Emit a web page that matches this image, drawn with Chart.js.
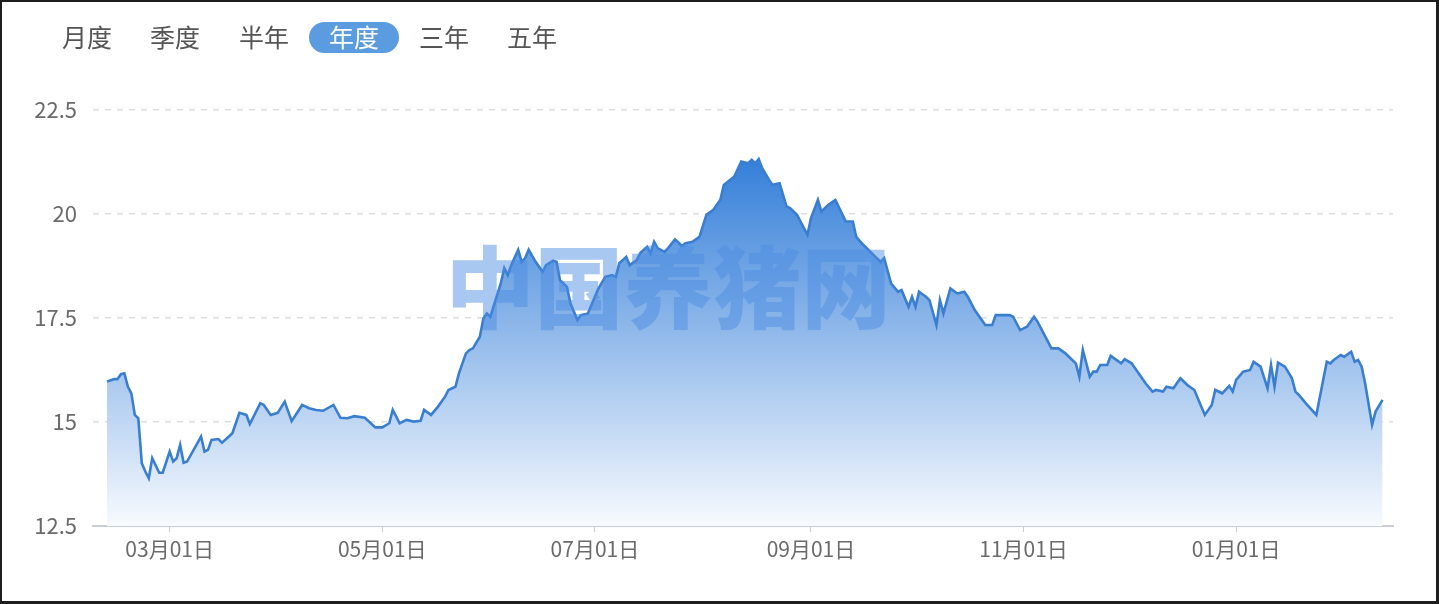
<!DOCTYPE html>
<html lang="zh-CN">
<head>
<meta charset="utf-8">
<title>年度价格走势</title>
<script src="https://cdn.jsdelivr.net/npm/chart.js@4.4.1/dist/chart.umd.min.js"></script>
<style>
  html, body { margin: 0; padding: 0; background: #fff; }
  #wrap { position: relative; width: 1439px; height: 604px; overflow: hidden; background: #fff;
          font-family: "Noto Sans CJK SC", "Noto Sans", sans-serif; }
  #chart { position: absolute; left: 0; top: 0; }
  .tab { position: absolute; top: 22px; height: 31px; line-height: 29px; font-size: 25px;
         color: #555; text-align: center; transform: translateX(-50%); white-space: nowrap; }
  .tab.active { background: #5b9bdf; color: #fff; border-radius: 16px; width: 90px; }
  #frame { position: absolute; left: 0; top: 0; width: 1439px; height: 604px; box-sizing: border-box;
           border: 2px solid #1e1e1e; border-right-width: 3px; border-bottom-width: 3px; pointer-events: none; }
</style>
</head>
<body>
<div id="wrap">
  <canvas id="chart" width="1439" height="604"></canvas>
  <div class="tab" style="left:87px">月度</div>
  <div class="tab" style="left:175px">季度</div>
  <div class="tab" style="left:264px">半年</div>
  <div class="tab active" style="left:354px">年度</div>
  <div class="tab" style="left:444px">三年</div>
  <div class="tab" style="left:532px">五年</div>
  <div id="frame"></div>
</div>
<script>
// day offsets counted from 2024-02-11
const days = [1,3,4,5,6,7,8,9,10,11,12,13,14,16,17,19,20,21,22,23,24,28,29,30,31,33,34,36,37,39,41,42,45,46,48,50,52,54,57,59,61,63,66,68,70,72,75,78,80,82,83,85,87,89,91,92,94,96,98,99,101,102,104,105,106,108,109,110,111,114,115,116,117,119,120,121,122,124,126,127,129,130,131,133,134,136,137,139,141,142,144,146,147,148,150,151,153,154,156,157,158,159,161,162,164,166,167,169,171,173,175,177,178,181,183,185,186,187,188,189,191,192,194,196,197,199,202,203,205,206,208,210,213,215,216,218,221,223,224,226,228,229,231,232,233,234,236,237,239,240,241,243,245,247,248,250,253,255,256,260,261,263,265,267,268,272,274,276,277,279,280,281,283,284,285,286,288,289,292,293,295,297,299,301,302,304,305,307,309,311,313,316,318,319,321,323,324,325,327,329,330,332,334,335,336,337,339,341,342,343,345,348,351,352,353,355,356,358,359,360,361,362,364,365,367];
const prices = [15.97,16.03,16.03,16.15,16.17,15.85,15.69,15.17,15.09,14.01,13.81,13.65,14.13,13.78,13.78,14.29,14.05,14.13,14.45,14.02,14.05,14.65,14.29,14.33,14.57,14.59,14.50,14.65,14.73,15.22,15.17,14.95,15.45,15.41,15.17,15.22,15.49,15.02,15.41,15.33,15.29,15.27,15.41,15.10,15.09,15.14,15.10,14.87,14.87,14.97,15.29,14.97,15.05,15.01,15.03,15.29,15.17,15.37,15.61,15.77,15.85,16.17,16.65,16.73,16.77,17.05,17.49,17.61,17.53,18.33,18.70,18.53,18.77,19.14,18.85,18.94,19.14,18.85,18.61,18.77,18.88,18.85,18.41,18.25,17.85,17.45,17.57,17.61,18.01,18.21,18.49,18.53,18.49,18.82,18.97,18.77,18.89,19.06,19.21,19.06,19.33,19.18,19.09,19.18,19.39,19.23,19.30,19.33,19.45,19.98,20.10,20.34,20.70,20.90,21.26,21.22,21.30,21.22,21.32,21.10,20.82,20.70,20.74,20.18,20.14,19.98,19.50,19.90,20.34,20.06,20.22,20.34,19.82,19.82,19.45,19.26,19.01,18.85,18.94,18.33,18.13,18.17,17.77,18.01,17.77,18.13,18.01,17.93,17.33,17.93,17.61,18.21,18.09,18.13,18.01,17.69,17.33,17.33,17.57,17.57,17.53,17.21,17.29,17.53,17.41,16.77,16.77,16.65,16.57,16.41,16.09,16.73,16.09,16.21,16.21,16.37,16.37,16.59,16.41,16.51,16.41,16.17,15.93,15.73,15.77,15.73,15.85,15.81,16.05,15.89,15.77,15.17,15.41,15.77,15.69,15.87,15.73,16.01,16.21,16.25,16.45,16.33,15.81,16.37,15.85,16.43,16.33,16.05,15.73,15.65,15.45,15.17,16.45,16.41,16.49,16.61,16.57,16.69,16.45,16.49,16.33,15.93,14.93,15.25,15.53];
const tickDays = [19, 80, 141, 203, 264, 325];
const tickLabels = ['03月01日', '05月01日', '07月01日', '09月01日', '11月01日', '01月01日'];
const yTicks = [12.5, 15, 17.5, 20, 22.5];
const watermark = '中国养猪网';

const FONT = '"Noto Sans CJK SC", "Noto Sans", sans-serif';
const points = days.map((d, i) => ({ x: d, y: prices[i] }));

const watermarkPlugin = {
  id: 'watermark',
  afterDatasetsDraw(chart) {
    const { ctx } = chart;
    ctx.save();
    ctx.font = '900 89px ' + FONT;
    ctx.fillStyle = 'rgba(75,140,225,0.48)';
    ctx.textAlign = 'center';
    ctx.textBaseline = 'middle';
    ctx.fillText(watermark, 668, 287);
    ctx.restore();
  }
};

new Chart(document.getElementById('chart'), {
  type: 'line',
  data: {
    datasets: [{
      data: points,
      borderColor: '#3a7ed0',
      borderWidth: 2.6,
      pointRadius: 0,
      tension: 0,
      fill: 'start',
      backgroundColor(context) {
        const { chart } = context;
        const area = chart.chartArea;
        if (!area) return 'rgba(90,150,220,0.5)';
        const g = chart.ctx.createLinearGradient(0, 150, 0, area.bottom);
        g.addColorStop(0, 'rgb(48,124,216)');
        g.addColorStop(1, 'rgb(247,250,254)');
        return g;
      }
    }]
  },
  options: {
    responsive: false,
    animation: false,
    devicePixelRatio: 1,
    layout: { padding: { top: 110, right: 46, bottom: 0, left: 0 } },
    plugins: { legend: { display: false }, tooltip: { enabled: false } },
    scales: {
      x: {
        type: 'linear',
        min: -3,
        max: 370,
        afterFit(scale) { scale.height = 78; },
        afterBuildTicks(scale) { scale.ticks = tickDays.map(v => ({ value: v })); },
        ticks: {
          autoSkip: false,
          maxRotation: 0,
          padding: 4,
          color: '#6a6a6a',
          font: { family: FONT, size: 21 },
          callback(v) { const i = tickDays.indexOf(v); return i >= 0 ? tickLabels[i] : null; }
        },
        grid: { drawOnChartArea: false, drawTicks: true, tickLength: 6, color: '#c9ced6' },
        border: { display: true, color: '#c9ced6', width: 2 }
      },
      y: {
        min: 12.5,
        max: 22.5,
        afterFit(scale) { scale.width = 93; },
        afterBuildTicks(scale) { scale.ticks = yTicks.map(v => ({ value: v })); },
        ticks: {
          padding: 16,
          color: '#6a6a6a',
          font: { family: FONT, size: 22 }
        },
        grid: {
          drawTicks: false,
          color(ctx) { return ctx.tick && ctx.tick.value === 12.5 ? 'rgba(0,0,0,0)' : '#dedede'; },
          lineWidth: 1.5
        },
        border: { display: false, dash: [6, 6] }
      }
    }
  },
  plugins: [watermarkPlugin]
});
</script>
</body>
</html>
